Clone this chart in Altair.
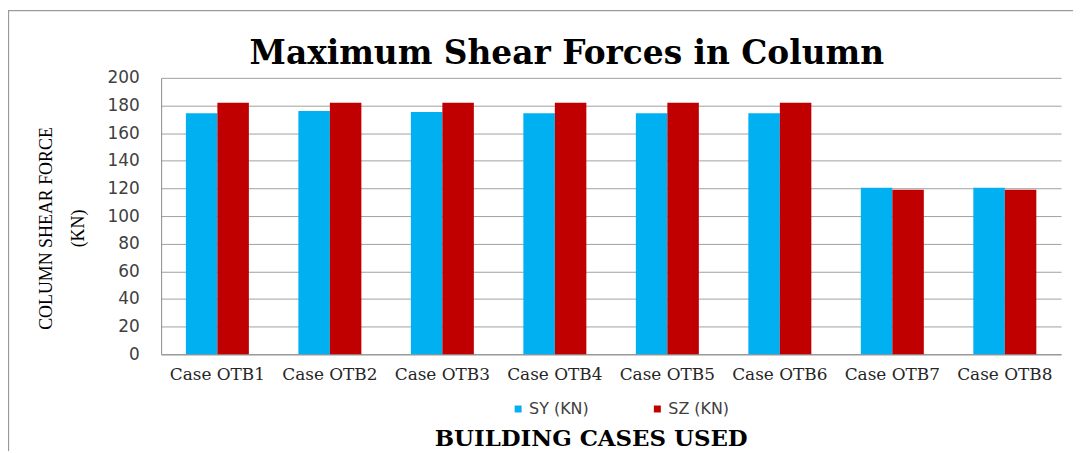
import altair as alt
import pandas as pd

cases = ["Case OTB1", "Case OTB2", "Case OTB3", "Case OTB4",
         "Case OTB5", "Case OTB6", "Case OTB7", "Case OTB8"]
sy_values = [174.4, 176.1, 175.3, 174.4, 174.4, 174.4, 120.5, 120.5]
sz_values = [182.0, 182.0, 182.0, 182.0, 182.0, 182.0, 119.1, 119.1]
series_names = ["SY (KN)", "SZ (KN)"]
series_colors = ["#00B0F0", "#C00000"]
y_ticks = [0, 20, 40, 60, 80, 100, 120, 140, 160, 180, 200]
chart_title = ["Maximum Shear Forces in Column"]

rows = []
for c, a, b in zip(cases, sy_values, sz_values):
    rows.append({"case": c, "series": series_names[0], "value": a})
    rows.append({"case": c, "series": series_names[1], "value": b})
df = pd.DataFrame(rows)

bars = alt.Chart(df).mark_bar().encode(
    x=alt.X(
        "case:N", sort=cases,
        scale=alt.Scale(paddingInner=0.44, paddingOuter=0.22),
        axis=alt.Axis(
            title="BUILDING CASES USED",
            titleFont="DejaVu Serif", titleFontSize=23, titleFontWeight="bold",
            titleColor="black", titleX=432, titleY=92, titleAlign="center",
            titleBaseline="alphabetic",
            labelAngle=0, labelFont="DejaVu Serif", labelFontSize=17,
            labelColor="#262626", labelPadding=12, ticks=False,
            domainColor="#8c8c8c", grid=False,
        ),
    ),
    xOffset=alt.XOffset("series:N", sort=series_names,
                        scale=alt.Scale(paddingInner=0, paddingOuter=0)),
    y=alt.Y(
        "value:Q", scale=alt.Scale(domain=[0, 200]),
        axis=alt.Axis(
            values=y_ticks,
            title=["COLUMN SHEAR FORCE", "(KN)"],
            titleFont="Liberation Serif", titleFontSize=18, titleFontWeight="normal",
            titleColor="black", titleX=-124, titleY=151, titleAlign="center",
            titleBaseline="top", titleLineHeight=32,
            labelFont="DejaVu Sans", labelFontSize=17, labelColor="#404040",
            labelPadding=22, ticks=False, domainColor="#8c8c8c",
            gridColor="#a0a0a0", grid=True,
        ),
    ),
    color=alt.Color(
        "series:N",
        scale=alt.Scale(domain=series_names, range=series_colors),
        legend=alt.Legend(
            orient="none", legendX=351, legendY=325, direction="horizontal",
            title=None, symbolType="square", symbolSize=49, symbolStrokeWidth=0,
            labelFont="DejaVu Sans", labelFontSize=16, labelColor="#404040",
            columnPadding=61, labelOffset=3, padding=0,
        ),
    ),
)

frame = alt.Chart(pd.DataFrame({"frame": [0]})).mark_rect(
    fill="transparent", stroke="#9a9a9a", strokeWidth=1.3
).encode(
    x=alt.value(-153.5), x2=alt.value(1100),
    y=alt.value(-67.7), y2=alt.value(600),
)

title_mark = alt.Chart(pd.DataFrame({"t": chart_title})).mark_text(
    font="DejaVu Serif", fontSize=33, fontWeight="bold", color="black",
    align="center", baseline="alphabetic",
).encode(
    text="t:N", x=alt.value(408), y=alt.value(-14),
)

chart = alt.layer(frame, bars, title_mark).properties(
    width=905, height=278,
    autosize=alt.AutoSizeParams(type="none"),
    padding={"left": 154, "top": 69, "right": 12, "bottom": 96},
).configure_view(stroke=None)

chart.save("out.html", embed_options={"renderer": "svg", "actions": False})
